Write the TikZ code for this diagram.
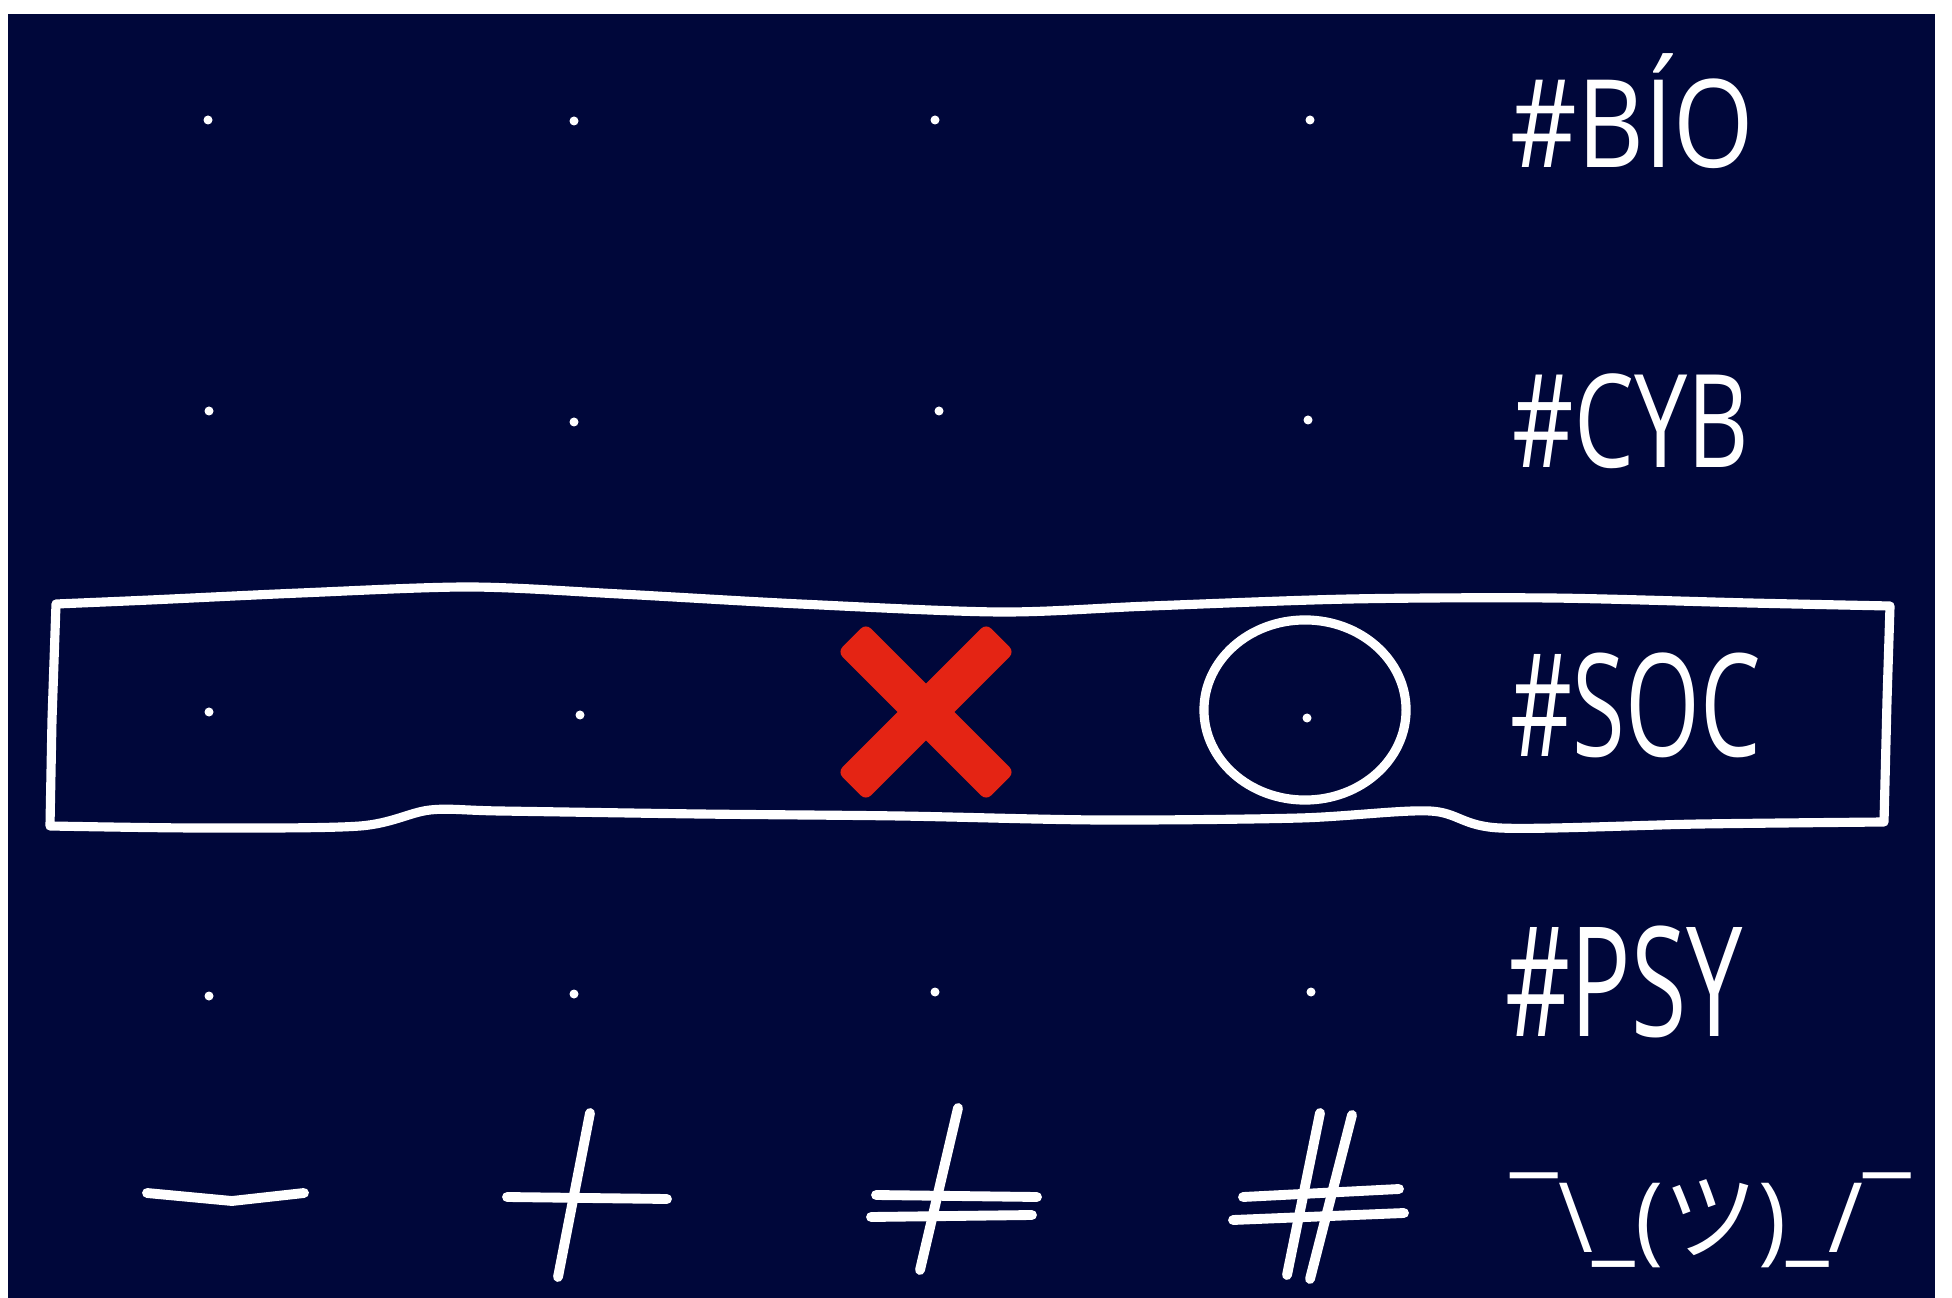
\documentclass[tikz,border=0pt]{standalone}
\usepackage{fontspec}
\usepackage{graphicx}
\newfontfamily\labfont{Open Sans}
\newfontfamily\cjkfont{Noto Sans CJK JP}
\definecolor{navy}{RGB}{0,7,58}
\definecolor{xred}{RGB}{228,36,20}
\begin{document}
\begin{tikzpicture}[x=0.01cm,y=-0.01cm,
  dotnode/.style={circle,fill=white,draw=none,inner sep=0pt,minimum size=0.09cm},
  hand/.style={white,line width=2.6pt,line cap=round,line join=round},
  sym/.style={white,line width=2.8pt,line cap=round,line join=round},
  xarm/.style={fill=xred,draw=none,rounded corners=0.07cm,minimum width=2.1cm,minimum height=0.4cm,inner sep=0pt},
  lab/.style={anchor=north west,inner sep=0pt,text=white}]
\useasboundingbox (0,0) rectangle (1952,1298);
\fill[white] (0,0) rectangle (1952,1298);
\fill[navy] (8,14) rectangle (1935,1298);

% dots
\node[dotnode] (d11) at (208,120) {};
\node[dotnode] (d12) at (574,121) {};
\node[dotnode] (d13) at (935,120) {};
\node[dotnode] (d14) at (1310,120) {};
\node[dotnode] (d21) at (209,411) {};
\node[dotnode] (d22) at (574,422) {};
\node[dotnode] (d23) at (939,411) {};
\node[dotnode] (d24) at (1308,420) {};
\node[dotnode] (d31) at (209,712) {};
\node[dotnode] (d32) at (580,715) {};
\node[dotnode] (d34) at (1307,718) {};
\node[dotnode] (d41) at (209,996) {};
\node[dotnode] (d42) at (574,994) {};
\node[dotnode] (d43) at (935,992) {};
\node[dotnode] (d44) at (1311,992) {};

% hand-drawn rectangle
\draw[hand] plot[smooth,tension=0.5] coordinates {(56,604) (150,600) (300,593) (470,587) (620,594) (800,604) (1000,612) (1150,606) (1350,599) (1550,598) (1750,603) (1890,606)}
  -- (1887,700) -- (1884,822)
  -- plot[smooth,tension=0.5] coordinates {(1884,822) (1700,824) (1500,828) (1430,811) (1300,818) (1100,820) (900,816) (700,814) (500,811) (430,810) (360,826) (200,828) (50,826)}
  -- (52,720) -- cycle;

% red cross
\node[xarm,rotate=45] (xa) at (926,712) {};
\node[xarm,rotate=-45] (xb) at (926,712) {};

% hand-drawn circle
\draw[hand] (1305,710) ellipse [x radius=1.01cm, y radius=0.9cm];

% labels
\node[lab] (lbio) at (1510,53) {\resizebox*{2.43cm}{1.15cm}{\labfont \#BÍO}};
\node[lab] (lcyb) at (1512,373) {\resizebox*{2.36cm}{0.95cm}{\labfont \#CYB}};
\node[lab] (lsoc) at (1510,652) {\resizebox*{2.50cm}{1.05cm}{\labfont \#SOC}};
\node[lab] (lpsy) at (1505,925) {\resizebox*{2.37cm}{1.12cm}{\labfont \#PSY}};
\node[lab] (lshrug) at (1510,1172) {\resizebox*{4.0cm}{0.95cm}{\labfont ¯\textbackslash\_({\cjkfont ツ})\_/¯}};

% bottom symbols
\draw[sym] (147,1193) -- (232,1201) -- (304,1193);
\draw[sym] (507,1197) -- (667,1199);
\draw[sym] (590,1113) -- (558,1277);
\draw[sym] (876,1195) -- (1037,1197);
\draw[sym] (871,1217) -- (1032,1215);
\draw[sym] (958,1108) -- (920,1270);
\draw[sym] (1243,1197) -- (1399,1189);
\draw[sym] (1233,1220) -- (1404,1213);
\draw[sym] (1320,1113) -- (1287,1275);
\draw[sym] (1352,1115) -- (1310,1279);
\end{tikzpicture}
\end{document}
